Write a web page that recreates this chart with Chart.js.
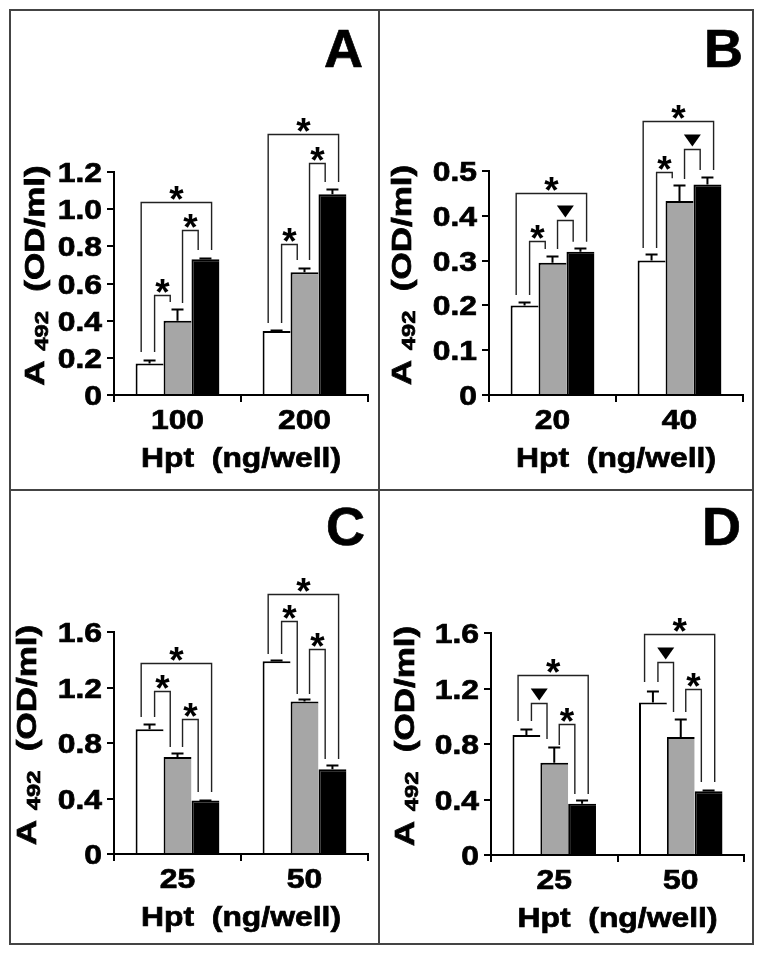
<!DOCTYPE html>
<html>
<head>
<meta charset="utf-8">
<script src="https://cdn.jsdelivr.net/npm/chart.js@4.4.0/dist/chart.umd.min.js"></script>
<style>
html, body { margin: 0; padding: 0; background: #fff; }
#figure { position: relative; width: 763px; height: 954px; }
.panel { position: absolute; }
.rule { position: absolute; background: #444; }
</style>
</head>
<body>
<div id="figure">
	<div class="panel" style="left:11px;top:11px;width:367px;height:478px"><canvas id="chartA"></canvas></div>
	<div class="panel" style="left:380px;top:11px;width:372px;height:478px"><canvas id="chartB"></canvas></div>
	<div class="panel" style="left:11px;top:491px;width:367px;height:452px"><canvas id="chartC"></canvas></div>
	<div class="panel" style="left:380px;top:491px;width:372px;height:452px"><canvas id="chartD"></canvas></div>
	<div class="rule" style="left:9px;top:9px;width:745px;height:2px"></div>
	<div class="rule" style="left:9px;top:943px;width:745px;height:2px"></div>
	<div class="rule" style="left:9px;top:9px;width:2px;height:936px"></div>
	<div class="rule" style="left:752px;top:9px;width:2px;height:936px"></div>
	<div class="rule" style="left:378px;top:9px;width:2px;height:936px"></div>
	<div class="rule" style="left:9px;top:489px;width:745px;height:2px"></div>
</div>
<script>
// panel A
var doseA = ['100', '200'];
var whiteA = [0.17, 0.345];
var grayA = [0.40, 0.66];
var blackA = [0.73, 1.08];
var whiteErrA = [0.02, 0.005];
var grayErrA = [0.065, 0.025];
var blackErrA = [0.005, 0.03];
// [dose, from bar, to bar, bracket level, left foot, right foot, mark]
var marksA = [
	[0, 0, 1, 0.538, 0.231, 0.50, '*'],
	[0, 1, 2, 0.888, 0.495, 0.78, '*'],
	[0, 0, 2, 1.039, 0.231, 0.78, '*'],
	[1, 0, 1, 0.813, 0.387, 0.727, '*'],
	[1, 1, 2, 1.249, 0.727, 1.146, '*'],
	[1, 0, 2, 1.405, 0.387, 1.146, '*']
];

// panel B
var doseB = ['20', '40'];
var whiteB = [0.20, 0.30];
var grayB = [0.295, 0.433];
var blackB = [0.32, 0.47];
var whiteErrB = [0.007, 0.015];
var grayErrB = [0.015, 0.035];
var blackErrB = [0.008, 0.017];
var marksB = [
	[0, 0, 1, 0.344, 0.223, 0.326, '*'],
	[0, 1, 2, 0.391, 0.326, 0.342, '▼'],
	[0, 0, 2, 0.451, 0.223, 0.342, '*'],
	[1, 0, 1, 0.498, 0.328, 0.484, '*'],
	[1, 1, 2, 0.549, 0.482, 0.502, '▼'],
	[1, 0, 2, 0.612, 0.328, 0.502, '*']
];

// panel C
var doseC = ['25', '50'];
var whiteC = [0.90, 1.39];
var grayC = [0.70, 1.10];
var blackC = [0.385, 0.61];
var whiteErrC = [0.035, 0.01];
var grayErrC = [0.025, 0.02];
var blackErrC = [0.005, 0.03];
var marksC = [
	[0, 0, 1, 1.175, 0.987, 0.771, '*'],
	[0, 1, 2, 0.973, 0.771, 0.447, '*'],
	[0, 0, 2, 1.377, 0.987, 0.447, '*'],
	[1, 0, 1, 1.679, 1.441, 1.153, '*'],
	[1, 1, 2, 1.477, 1.153, 0.685, '*'],
	[1, 0, 2, 1.874, 1.441, 0.685, '*']
];

// panel D
var doseD = ['25', '50'];
var whiteD = [0.865, 1.10];
var grayD = [0.665, 0.85];
var blackD = [0.37, 0.46];
var whiteErrD = [0.045, 0.085];
var grayErrD = [0.11, 0.13];
var blackErrD = [0.025, 0.005];
var marksD = [
	[0, 0, 1, 1.095, 0.966, 0.836, '▼'],
	[0, 1, 2, 0.944, 0.793, 0.44, '*'],
	[0, 0, 2, 1.297, 0.966, 0.44, '*'],
	[1, 0, 1, 1.391, 1.247, 1.031, '▼'],
	[1, 1, 2, 1.196, 1.031, 0.526, '*'],
	[1, 0, 2, 1.593, 1.247, 0.526, '*']
];

var FONT = '"Liberation Sans", Arial, sans-serif';
var STRETCH = 1.18;

function drawText(ctx, text, x, y, size, align, sx){
	ctx.save();
	ctx.font = 'bold ' + size + 'px ' + FONT;
	ctx.textAlign = align;
	ctx.textBaseline = 'alphabetic';
	ctx.translate(x, y);
	ctx.scale(sx, 1);
	ctx.fillText(text, 0, 0);
	ctx.strokeText(text, 0, 0);
	ctx.restore();
}

var errorBars = {
	id: 'errorBars',
	afterDatasetsDraw(chart){
		var ctx = chart.ctx;
		var y = chart.scales.y;
		ctx.save();
		ctx.strokeStyle = '#000';
		ctx.lineWidth = 2;
		chart.data.datasets.forEach((ds, i) => {
			chart.getDatasetMeta(i).data.forEach((bar, j) => {
				var top = Math.round(y.getPixelForValue(ds.data[j] + ds.errors[j])) + 0.5;
				ctx.beginPath();
				ctx.moveTo(bar.x, bar.y);
				ctx.lineTo(bar.x, top);
				ctx.moveTo(bar.x - 6, top);
				ctx.lineTo(bar.x + 6, top);
				ctx.stroke();
			});
		});
		ctx.restore();
	}
};

var brackets = {
	id: 'brackets',
	afterDraw(chart){
		var ctx = chart.ctx;
		var y = chart.scales.y;
		ctx.save();
		ctx.strokeStyle = '#222';
		ctx.fillStyle = '#000';
		ctx.lineWidth = 1.4;
		chart.options.plugins.brackets.marks.forEach(m => {
			var barA = chart.getDatasetMeta(m[1]).data[m[0]];
			var barB = chart.getDatasetMeta(m[2]).data[m[0]];
			var outer = m[2] - m[1] === 2;
			var lx = barA.x - barA.width / 2 + (outer ? 0.2 : 0.68) * barA.width;
			var rx = barB.x - barB.width / 2 + (outer ? 0.72 : 0.24) * barB.width;
			var top = Math.round(y.getPixelForValue(m[3])) + 0.5;
			ctx.beginPath();
			ctx.moveTo(lx, y.getPixelForValue(m[4]));
			ctx.lineTo(lx, top);
			ctx.lineTo(rx, top);
			ctx.lineTo(rx, y.getPixelForValue(m[5]));
			ctx.stroke();
			var cx = (lx + rx) / 2;
			if(m[6] === '▼'){
				ctx.beginPath();
				ctx.moveTo(cx - 8.5, top - 15);
				ctx.lineTo(cx + 8.5, top - 15);
				ctx.lineTo(cx, top - 3);
				ctx.closePath();
				ctx.fill();
			}else{
				ctx.font = 'bold 37px ' + FONT;
				var mt = ctx.measureText('*');
				ctx.textAlign = 'center';
				ctx.fillText('*', cx, top - 3 - mt.actualBoundingBoxDescent);
			}
		});
		ctx.restore();
	}
};

var labels = {
	id: 'labels',
	afterDraw(chart){
		var ctx = chart.ctx;
		var o = chart.options.plugins.labels;
		var area = chart.chartArea;
		var x = chart.scales.x;
		var y = chart.scales.y;
		ctx.save();
		ctx.fillStyle = '#000';
		ctx.strokeStyle = '#000';
		ctx.lineWidth = 0.7;
		y.ticks.forEach(t => {
			var py = y.getPixelForValue(t.value);
			drawText(ctx, t.value === 0 ? '0' : t.value.toFixed(1), area.left - 12, py + 10, 27, 'right', STRETCH);
		});
		chart.data.labels.forEach((l, i) => {
			drawText(ctx, l, x.getPixelForValue(i), area.bottom + 34, 27, 'center', STRETCH);
		});
		drawText(ctx, 'Hpt  (ng/well)', (area.left + area.right) / 2, area.bottom + 72, 27, 'center', STRETCH);
		drawText(ctx, o.letter, o.letterX, o.letterY, 54, 'right', 1);

		// rotated y title with subscript
		ctx.translate(area.left - o.titleGap, (area.top + area.bottom) / 2 - 8);
		ctx.rotate(-Math.PI / 2);
		ctx.scale(1.25, 1);
		var parts = [['A ', 28, 0], ['492', 19, 4], ['  (OD/ml)', 28, 0]];
		var total = 0;
		parts.forEach(p => {
			ctx.font = 'bold ' + p[1] + 'px ' + FONT;
			p.push(ctx.measureText(p[0]).width);
			total += p[3];
		});
		var px = -total / 2;
		ctx.textAlign = 'left';
		parts.forEach(p => {
			ctx.font = 'bold ' + p[1] + 'px ' + FONT;
			ctx.fillText(p[0], px, p[2]);
			ctx.strokeText(p[0], px, p[2]);
			px += p[3];
		});
		ctx.restore();
	}
};

function makeChart(id, dose, white, gray, black, errs, marks, yMax, yStep, box){
	var canvas = document.getElementById(id);
	var W = canvas.parentNode.clientWidth;
	var H = canvas.parentNode.clientHeight;
	return new Chart(canvas, {
		type: 'bar',
		data: {
			labels: dose,
			datasets: [
				{data: white, errors: errs[0], backgroundColor: '#fff'},
				{data: gray, errors: errs[1], backgroundColor: '#a6a6a6'},
				{data: black, errors: errs[2], backgroundColor: '#000'}
			].map(d => Object.assign(d, {
				borderColor: '#000',
				borderWidth: {top: 2, left: 2, right: 0, bottom: 0},
				borderSkipped: false,
				barPercentage: 1,
				categoryPercentage: 0.66
			}))
		},
		options: {
			responsive: true,
			maintainAspectRatio: false,
			animation: false,
			events: [],
			layout: {
				padding: {left: box.left - 10, top: box.top, right: W - box.right, bottom: H - box.bottom - 10}
			},
			plugins: {
				legend: {display: false},
				tooltip: {enabled: false},
				brackets: {marks: marks},
				labels: {letter: box.letter, letterX: box.letterX, letterY: box.letterY, titleGap: box.titleGap}
			},
			scales: {
				x: {
					afterFit: s => { s.height = 10; },
					ticks: {display: false},
					grid: {drawOnChartArea: false, drawTicks: true, tickLength: 7, color: '#000', lineWidth: 2, offset: true},
					border: {display: true, color: '#000', width: 2}
				},
				y: {
					min: 0,
					max: yMax,
					afterFit: s => { s.width = 10; },
					ticks: {display: false, stepSize: yStep},
					grid: {drawOnChartArea: false, drawTicks: true, tickLength: 7, color: '#000', lineWidth: 2},
					border: {display: true, color: '#000', width: 2}
				}
			}
		},
		plugins: [errorBars, brackets, labels]
	});
}

makeChart('chartA', doseA, whiteA, grayA, blackA, [whiteErrA, grayErrA, blackErrA], marksA, 1.2, 0.2,
	{left: 103, right: 357, top: 161, bottom: 384, letter: 'A', letterX: 352, letterY: 56, titleGap: 70});
makeChart('chartB', doseB, whiteB, grayB, blackB, [whiteErrB, grayErrB, blackErrB], marksB, 0.5, 0.1,
	{left: 109, right: 363, top: 160, bottom: 384, letter: 'B', letterX: 363, letterY: 56, titleGap: 78});
makeChart('chartC', doseC, whiteC, grayC, blackC, [whiteErrC, grayErrC, blackErrC], marksC, 1.6, 0.4,
	{left: 103, right: 357, top: 141, bottom: 363, letter: 'C', letterX: 354, letterY: 54, titleGap: 78});
makeChart('chartD', doseD, whiteD, grayD, blackD, [whiteErrD, grayErrD, blackErrD], marksD, 1.6, 0.4,
	{left: 111, right: 364, top: 142, bottom: 364, letter: 'D', letterX: 361, letterY: 54, titleGap: 77});
</script>
</body>
</html>
